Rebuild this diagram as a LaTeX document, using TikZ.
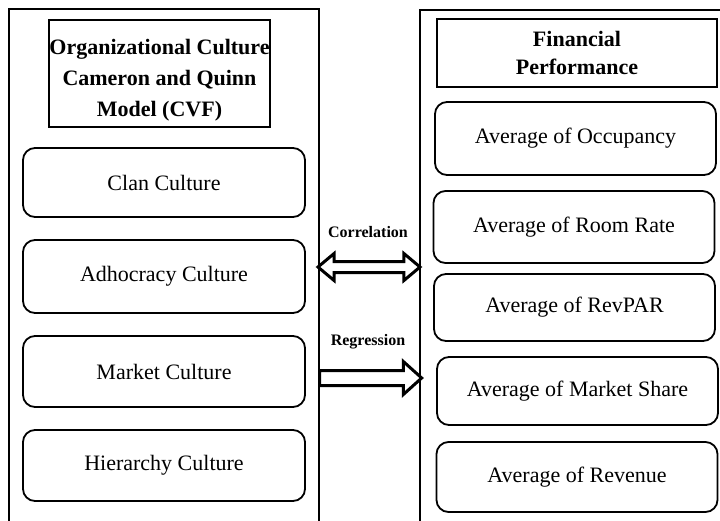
\documentclass[tikz,border=0pt]{standalone}
\usepackage{fontspec}
\setmainfont{Liberation Serif}
\usetikzlibrary{shapes.arrows}
\tikzset{
    frame/.style={line width=1pt},
    headbox/.style={draw, line width=1pt, align=center, inner sep=0pt,
        font=\fontsize{11}{15.5}\selectfont\bfseries},
    itembox/.style={draw, line width=0.9pt, rounded corners=6pt, inner sep=0pt,
        font=\fontsize{11}{13}\selectfont},
    leftitem/.style={itembox, minimum width=141pt},
    rightitem/.style={itembox, minimum width=140.5pt},
    blockarrow/.style={draw, line width=1.5pt, inner xsep=0pt, minimum height=51pt},
    arrowlabel/.style={font=\fontsize{8}{10}\selectfont\bfseries}
}

\begin{document}
\begin{tikzpicture}[x=0.5pt,y=-0.5pt]
    % Page
    \useasboundingbox (0,0) rectangle (720,521);
    \clip (0,0) rectangle (720,521);

    % Outer frames, open at the bottom
    \draw[frame] (9,530) -- (9,9) -- (319,9) -- (319,530);
    \draw[frame] (420,530) -- (420,10) -- (730,10);

    % Headers
    \node[headbox, minimum width=110.5pt, minimum height=53.5pt] (cvf) at (159.5,73.5)
        {\rule{0pt}{14pt}Organizational Culture\\Cameron and Quinn\\Model (CVF)};
    \node[headbox, minimum width=140pt, minimum height=34pt,
        font=\fontsize{11}{14}\selectfont\bfseries] (fin) at (577,53)
        {Financial\\Performance};

    % Culture types
    \node[leftitem, minimum height=34.5pt] (clan) at (164,182.5) {Clan Culture};
    \node[leftitem, minimum height=36.5pt] (adhoc) at (164,276.5) {Adhocracy Culture};
    \node[leftitem, minimum height=35.5pt] (market) at (164,371.5) {Market Culture};
    \node[leftitem, minimum height=35.5pt] (hier) at (164,465.5) {Hierarchy Culture};

    % Financial measures
    \node[rightitem, minimum height=36.5pt] (occ) at (575.5,138.5) {Average of Occupancy};
    \node[rightitem, minimum height=36pt] (room) at (574,227) {Average of Room Rate};
    \node[rightitem, minimum height=33.5pt] (revpar) at (574.5,307.5) {Average of RevPAR};
    \node[rightitem, minimum height=34pt] (share) at (577.5,391) {Average of Market Share};
    \node[rightitem, minimum height=35pt] (rev) at (577,477) {Average of Revenue};

    % Block arrows between the frames
    \node[blockarrow, double arrow, inner ysep=2pt, minimum width=12pt,
        double arrow head extend=4pt, double arrow tip angle=80] (corr) at (369,267) {};
    \node[arrowlabel] (corrlabel) at (368,232) {Correlation};

    \node[blockarrow, single arrow, inner ysep=3pt, minimum width=15pt,
        single arrow head extend=4.5pt, single arrow tip angle=84] (regr) at (366.5,378) {};
    \node[arrowlabel] (regrlabel) at (368,342) {Regression};
\end{tikzpicture}
\end{document}
